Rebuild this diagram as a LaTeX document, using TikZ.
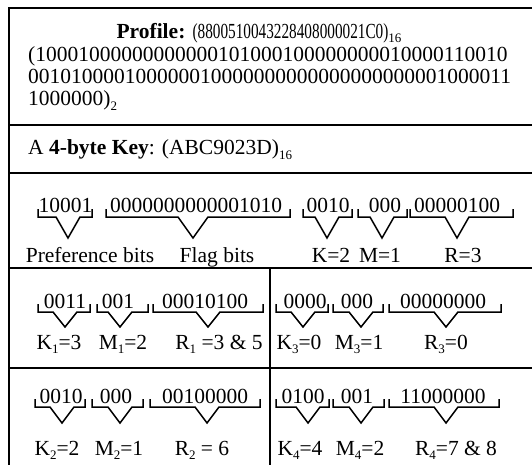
\documentclass[tikz,border=0pt]{standalone}
\usepackage{fontspec}
\setmainfont{Liberation Serif}
\newcommand\sbs[1]{\raisebox{-0.22em}{\fontsize{13}{13}\selectfont #1}}
\newcommand\hsbs[1]{\raisebox{-0.14em}{\fontsize{13}{13}\selectfont #1}}
\newcommand\bitbrace[6]{% xl, xr, tip x, line y, tip y, half width
  \draw[brc] (#1,#4-8) -- (#1,#4) -- (#3-#6,#4) -- (#3,#5) -- (#3+#6,#4) -- (#2,#4) -- (#2,#4-8);}
\begin{document}
\begin{tikzpicture}[x=1pt,y=-1pt,
  font=\fontsize{21.5}{22}\selectfont,
  tline/.style={line width=2pt},
  brc/.style={line width=1.5pt},
  txt/.style={inner sep=0pt, anchor=base},
  txtl/.style={inner sep=0pt, anchor=base west}]
\useasboundingbox (0,0) rectangle (532,465);
% table
\draw[tline] (532,8) -- (8.5,8) -- (8.5,465);
\foreach \yy in {125,173,268,368} \draw[tline] (8.5,\yy) -- (532,\yy);
\draw[tline] (270,268) -- (270,465);
% profile
\node[txt] (prof) at (259,39) {\textbf{Profile:} \scalebox{0.71}[1]{(8800510043228408000021C0)}\hsbs{16}};
\node[txtl] (p1) at (28,62) {(10001000000000000101000100000000010000110010};
\node[txtl] (p2) at (28,84) {001010000100000010000000000000000000001000011};
\node[txtl] (p3) at (28,106) {1000000)\sbs{2}};
\node[txtl] (key) at (28,155) {A \textbf{4-byte Key}: (ABC9023D)\sbs{16}};
% row 2
\node[txt] (b1) at (65.5,212) {10001};
\node[txt] (b2) at (196,212) {0000000000001010};
\node[txt] (b3) at (328,212) {0010};
\node[txt] (b4) at (385,212) {000};
\node[txt] (b5) at (457,212) {00000100};
\bitbrace{38}{92}{68}{217}{238}{12}
\bitbrace{106}{290}{193}{217}{238}{15}
\bitbrace{303}{352}{327}{217}{238}{12}
\bitbrace{358}{407}{382}{217}{238}{12}
\bitbrace{410}{513}{457}{217}{238}{12}
\node[txt] (l1) at (90,262) {Preference bits};
\node[txt] (l2) at (217,262) {Flag bits};
\node[txt] (l3) at (331,262) {K=2};
\node[txt] (l4) at (380,262) {M=1};
\node[txt] (l5) at (463,262) {R=3};
% row 3
\node[txt] (c1) at (65,308) {0011};
\node[txt] (c2) at (118,308) {001};
\node[txt] (c3) at (205,308) {00010100};
\node[txt] (c4) at (305,308) {0000};
\node[txt] (c5) at (357,308) {000};
\node[txt] (c6) at (443,308) {00000000};
\bitbrace{38}{90}{65}{312}{327}{12}
\bitbrace{97}{148}{120}{312}{327}{12}
\bitbrace{153}{263}{208}{312}{327}{12}
\bitbrace{276}{328}{303}{312}{327}{12}
\bitbrace{333}{383}{361}{312}{327}{12}
\bitbrace{389}{501}{446}{312}{327}{12}
\node[txt] (m1) at (59,349) {K\sbs{1}=3};
\node[txt] (m2) at (123,349) {M\sbs{1}=2};
\node[txt] (m3) at (219,349) {R\sbs{1} =3 \& 5};
\node[txt] (m4) at (299,349) {K\sbs{3}=0};
\node[txt] (m5) at (359,349) {M\sbs{3}=1};
\node[txt] (m6) at (446,349) {R\sbs{3}=0};
% row 4
\node[txt] (d1) at (61,403) {0010};
\node[txt] (d2) at (116,403) {000};
\node[txt] (d3) at (205,403) {00100000};
\node[txt] (d4) at (303,403) {0100};
\node[txt] (d5) at (357,403) {001};
\node[txt] (d6) at (443,403) {11000000};
\bitbrace{35}{85}{62}{407}{423}{12}
\bitbrace{92}{143}{120}{407}{423}{12}
\bitbrace{150}{260}{207}{407}{423}{12}
\bitbrace{276}{329}{308}{407}{423}{12}
\bitbrace{333}{384}{361}{407}{423}{12}
\bitbrace{389}{499}{446}{407}{423}{12}
\node[txt] (n1) at (57,455) {K\sbs{2}=2};
\node[txt] (n2) at (119,455) {M\sbs{2}=1};
\node[txt] (n3) at (202,455) {R\sbs{2} = 6};
\node[txt] (n4) at (300,455) {K\sbs{4}=4};
\node[txt] (n5) at (360,455) {M\sbs{4}=2};
\node[txt] (n6) at (456,455) {R\sbs{4}=7 \& 8};
\end{tikzpicture}
\end{document}
